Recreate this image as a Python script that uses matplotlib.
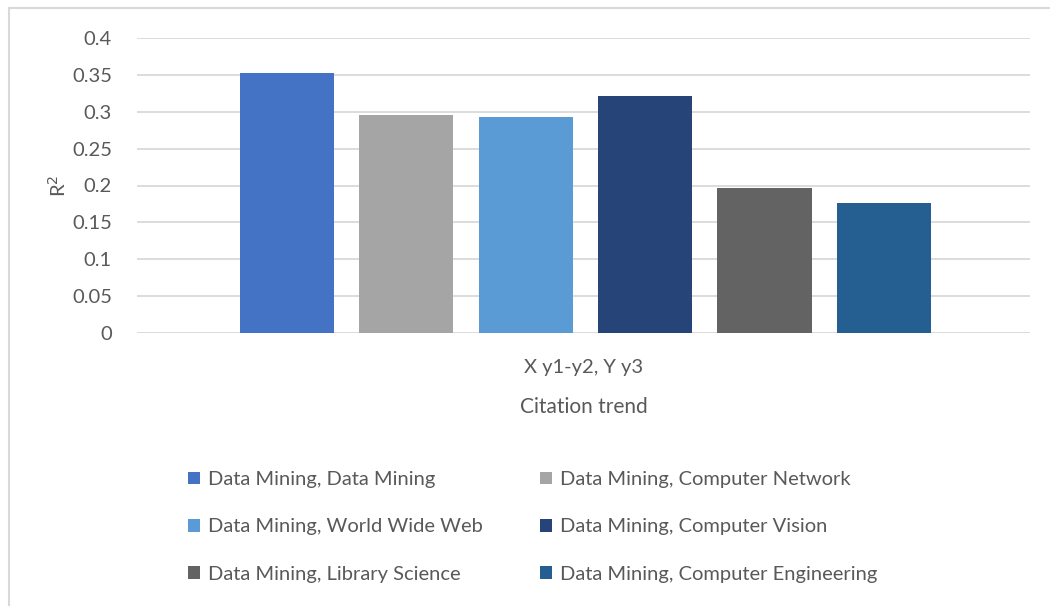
from matplotlib import pyplot as plt
from matplotlib.patches import Rectangle
import numpy as np

plt.rcParams['font.family'] = ['Lato', 'DejaVu Sans']

# one category on the x axis, six series of R^2 values
category = ["X y1-y2, Y y3"]
series = ["Data Mining, Data Mining",
          "Data Mining, Computer Network",
          "Data Mining, World Wide Web",
          "Data Mining, Computer Vision",
          "Data Mining, Library Science",
          "Data Mining, Computer Engineering"]
r2 = [0.352, 0.296, 0.293, 0.321, 0.196, 0.176]
colors = ["#4472C4", "#A5A5A5", "#5B9BD5", "#264478", "#636363", "#255E91"]

text_col = "#595959"

fig = plt.figure(figsize=(10.5, 6.06), dpi=100)
ax = fig.add_axes([137/1050, 1 - 333/606, (1030 - 137)/1050, (333 - 38)/606])

x = np.arange(len(category))
step = 0.1338
width = 0.1053
bars = []
for i, (name, val, c) in enumerate(zip(series, r2, colors)):
    b = ax.bar(x + (i - 2.5) * step + 0.002, [val], width=width, color=c,
               label=name, zorder=3)
    bars.append(b)

ax.set_xlim(-0.5, 0.5)
ax.set_ylim(0, 0.4)
ax.set_yticks(np.arange(0, 0.401, 0.05))
ax.set_yticklabels(["0", "0.05", "0.1", "0.15", "0.2", "0.25", "0.3", "0.35", "0.4"])
ax.set_xticks(x)
ax.set_xticklabels(category)

ax.grid(axis="y", color="#D9D9D9", lw=1.3, zorder=0)
for s in ax.spines.values():
    s.set_visible(False)
ax.tick_params(axis="both", length=0, colors=text_col, labelsize=14.5)
ax.tick_params(axis="y", pad=18)
ax.tick_params(axis="x", pad=19)

ax.set_ylabel("R$^2$", color=text_col, fontsize=14.5, labelpad=2)
ax.set_xlabel("Citation trend", color=text_col, fontsize=15, labelpad=15)

# legend filled row by row, two columns
order = [0, 2, 4, 1, 3, 5]
handles = [bars[i] for i in order]
labels = [series[i] for i in order]
leg = fig.legend(handles, labels, ncol=2, loc="upper left",
                 bbox_to_anchor=(170/1050, 1 - 453/606), frameon=False,
                 fontsize=14.5, handlelength=0.6, handleheight=0.6,
                 handletextpad=0.4, columnspacing=2.8, labelspacing=1.5)
for t in leg.get_texts():
    t.set_color(text_col)

# chart area border
fig.add_artist(Rectangle((9/1050, -0.1), 2, 1 - 8/606 + 0.1,
                         transform=fig.transFigure, fill=False,
                         ec="#D9D9D9", lw=1.5))

plt.savefig("out.png", dpi=100)
